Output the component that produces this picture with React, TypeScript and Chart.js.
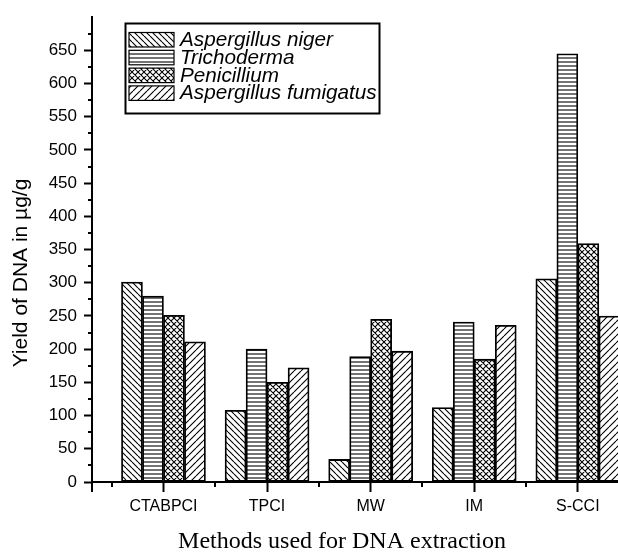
import React, { useEffect, useRef } from "react";
import { Chart, registerables } from "chart.js";

Chart.register(...registerables);

const categories = ["CTABPCI", "TPCI", "MW", "IM", "S-CCI"];
const seriesNames = ["Aspergillus niger", "Trichoderma", "Penicillium", "Aspergillus fumigatus"];
const nigerValues = [301, 108, 34, 112, 306];
const trichodermaValues = [280, 200, 189, 241, 645];
const penicilliumValues = [251, 150, 245, 185, 359];
const fumigatusValues = [211, 172, 197, 236, 250];
const yMajorTicks = [0, 50, 100, 150, 200, 250, 300, 350, 400, 450, 500, 550, 600, 650];
const yAxisTitle = "Yield of DNA in µg/g";
const xAxisTitle = "Methods used for DNA extraction";

const patternKinds = ["back", "horiz", "cross", "fwd"];

function makePattern(ctx: CanvasRenderingContext2D, kind: string): CanvasPattern | string {
  const c = document.createElement("canvas");
  const s = kind === "horiz" ? 4 : kind === "fwd" ? 7 : 6;
  c.width = s;
  c.height = s;
  const g = c.getContext("2d")!;
  g.fillStyle = "#fff";
  g.fillRect(0, 0, s, s);
  g.strokeStyle = "#000";
  g.lineWidth = 1.1;
  g.beginPath();
  if (kind === "horiz") {
    g.moveTo(0, 2);
    g.lineTo(s, 2);
  }
  if (kind === "back" || kind === "cross") {
    for (const k of [-s, 0, s]) {
      g.moveTo(k, 0);
      g.lineTo(k + s, s);
    }
  }
  if (kind === "fwd" || kind === "cross") {
    for (const k of [-s, 0, s]) {
      g.moveTo(k, s);
      g.lineTo(k + s, 0);
    }
  }
  g.stroke();
  return ctx.createPattern(c, "repeat") || "#fff";
}

const extrasPlugin = {
  id: "extras",
  afterDraw(chart: any) {
    const { ctx, chartArea, scales } = chart;
    const xs = scales.x;
    const ys = scales.y;
    ctx.save();
    ctx.strokeStyle = "#000";
    ctx.lineWidth = 2;
    ctx.beginPath();
    // minor y ticks
    for (let i = 0; i < yMajorTicks.length; i++) {
      const v = yMajorTicks[i] + 25;
      const py = Math.round(ys.getPixelForValue(v));
      ctx.moveTo(chartArea.left - 4, py);
      ctx.lineTo(chartArea.left, py);
    }
    // minor x ticks
    for (let i = 0; i <= categories.length; i++) {
      const px = Math.round(xs.getPixelForValue(i + 0.5));
      ctx.moveTo(px, chartArea.bottom);
      ctx.lineTo(px, chartArea.bottom + 5);
    }
    // left end tick
    ctx.moveTo(chartArea.left, chartArea.bottom);
    ctx.lineTo(chartArea.left, chartArea.bottom + 10);
    ctx.stroke();

    // axis titles
    ctx.fillStyle = "#000";
    ctx.font = '24px "Liberation Serif", "Times New Roman", serif';
    ctx.textAlign = "center";
    ctx.textBaseline = "alphabetic";
    ctx.fillText(xAxisTitle, 342, 548);

    ctx.save();
    ctx.translate(27, 273);
    ctx.rotate(-Math.PI / 2);
    ctx.font = '21px "Liberation Sans", Arial, sans-serif';
    ctx.fillText(yAxisTitle, 0, 0);
    ctx.restore();

    // legend
    const bx = 125.5, by = 23.5, bw = 254, bh = 90;
    ctx.fillStyle = "#fff";
    ctx.fillRect(bx, by, bw, bh);
    ctx.lineWidth = 2;
    ctx.strokeStyle = "#000";
    ctx.strokeRect(bx, by, bw, bh);
    chart.data.datasets.forEach((ds: any, i: number) => {
      const sy = 32.5 + i * 17.8;
      ctx.fillStyle = ds.backgroundColor;
      ctx.fillRect(129, sy, 45, 14.5);
      ctx.lineWidth = 1.2;
      ctx.strokeRect(129, sy, 45, 14.5);
      ctx.fillStyle = "#000";
      ctx.font = 'italic 20.7px "Liberation Sans", Arial, sans-serif';
      ctx.textAlign = "left";
      ctx.textBaseline = "alphabetic";
      ctx.fillText(ds.label, 180, sy + 13.5);
    });
    ctx.restore();
  },
};

export default function App() {
  const ref = useRef<HTMLCanvasElement>(null);
  useEffect(() => {
    const canvas = ref.current!;
    const ctx = canvas.getContext("2d")!;
    const seriesValues = [nigerValues, trichodermaValues, penicilliumValues, fumigatusValues];
    const datasets = seriesNames.map((name, i) => ({
      label: name,
      data: seriesValues[i].map((v, j) => ({ x: j + 1, y: v })),
      backgroundColor: makePattern(ctx, patternKinds[i]),
      borderColor: "#000",
      borderWidth: 1.8,
      borderSkipped: false,
      barThickness: 21,
    }));
    const chart = new Chart(canvas, {
      type: "bar",
      data: { datasets },
      plugins: [extrasPlugin],
      options: {
        animation: false,
        responsive: false,
        layout: { padding: { left: 0, top: 12, right: 0, bottom: 0 } },
        plugins: { legend: { display: false }, tooltip: { enabled: false } },
        scales: {
          x: {
            type: "linear",
            offset: false,
            min: 0.31,
            max: 5.6,
            afterBuildTicks: (scale: any) => {
              scale.ticks = categories.map((_, i) => ({ value: i + 1 }));
            },
            afterFit: (scale: any) => {
              scale.height = 70;
            },
            ticks: {
              autoSkip: false,
              maxRotation: 0,
              padding: 5,
              color: "#000",
              font: { family: '"Liberation Sans", Arial, sans-serif', size: 16 },
              callback: (v: any) => {
                const idx = Math.round(Number(v)) - 1;
                return categories[idx] ?? "";
              },
            },
            grid: {
              display: true,
              offset: false,
              drawOnChartArea: false,
              drawTicks: true,
              tickLength: 10,
              tickWidth: 2,
              tickColor: "#000",
            },
            border: { display: true, color: "#000", width: 2 },
          },
          y: {
            type: "linear",
            min: 0,
            max: 700,
            afterBuildTicks: (scale: any) => {
              scale.ticks = yMajorTicks.map((v) => ({ value: v }));
            },
            afterFit: (scale: any) => {
              scale.width = 92;
            },
            ticks: {
              autoSkip: false,
              padding: 7,
              color: "#000",
              font: { family: '"Liberation Sans", Arial, sans-serif', size: 17 },
              callback: (v: any) => String(v),
            },
            grid: {
              display: true,
              drawOnChartArea: false,
              drawTicks: true,
              tickLength: 8,
              tickWidth: 2,
              tickColor: "#000",
            },
            border: { display: true, color: "#000", width: 2 },
          },
        },
      } as any,
    });
    return () => chart.destroy();
  }, []);
  return (
    <div
      style={{
        position: "fixed",
        left: 0,
        top: 0,
        width: 618,
        height: 552,
        overflow: "hidden",
        background: "#fff",
      }}
    >
      <canvas ref={ref} width={640} height={552} style={{ display: "block", width: 640, height: 552 }} />
    </div>
  );
}
